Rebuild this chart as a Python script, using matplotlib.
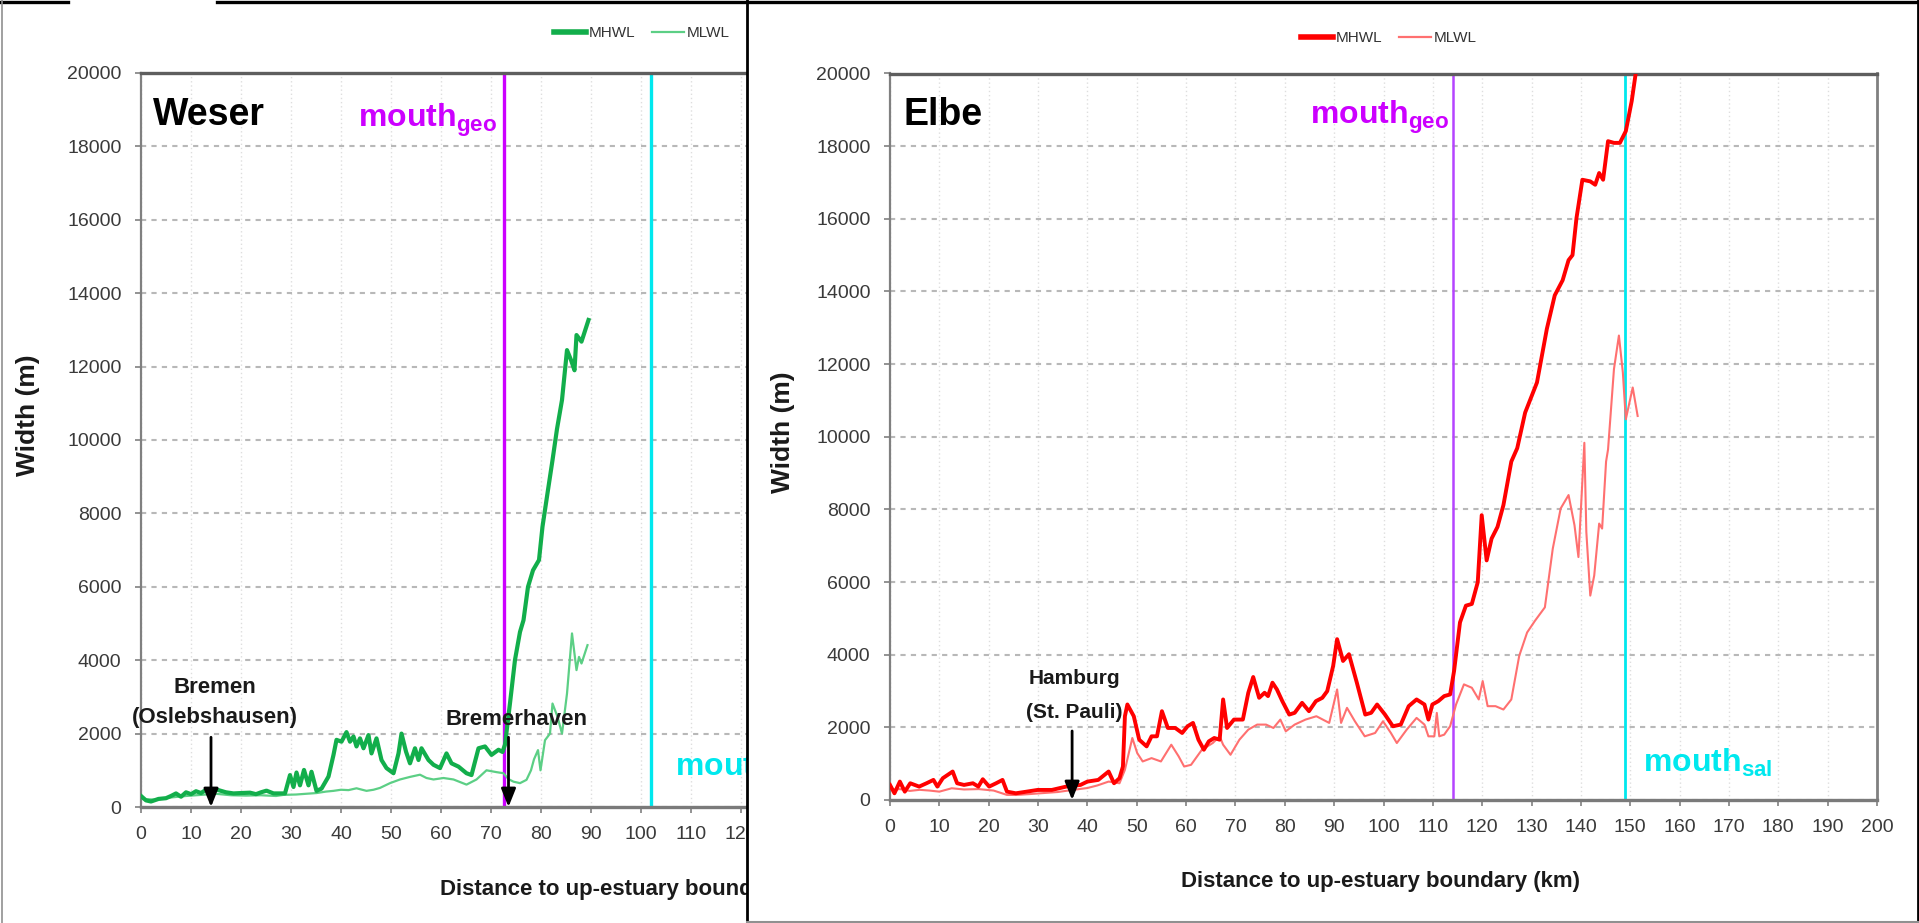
import matplotlib
matplotlib.use("Agg")
import matplotlib.pyplot as plt
from matplotlib.lines import Line2D
from matplotlib.patches import Rectangle

plt.rcParams['font.family'] = ['Liberation Sans', 'DejaVu Sans']
plt.rcParams['mathtext.fontset'] = 'custom'
plt.rcParams['mathtext.rm'] = 'Liberation Sans'
plt.rcParams['mathtext.bf'] = 'Liberation Sans:bold'
plt.rcParams['mathtext.it'] = 'Liberation Sans:italic'

# ==========================================
# Data: width (m) vs distance (km)
# ==========================================
weser_mhwl_km = [0, 1, 2, 3.5, 5, 6, 7, 8, 9, 10, 11, 12, 13, 14, 15, 16, 17, 18.5, 20, 21.8,
                 23, 24, 25.1, 26.5, 28.8, 29.8, 30.5, 31.1, 31.8, 32.6, 33.5, 34.1, 35.1, 36.1,
                 37.5, 38.5, 39.1, 40.1, 41.1, 41.8, 42.5, 43.1, 43.8, 44.5, 45.5, 46.1, 47.1,
                 48.1, 49.1, 50.5, 51.5, 52.1, 53.0, 53.8, 54.8, 55.5, 56.1, 57.5, 58.5, 59.8,
                 61.1, 62.1, 63.5, 65.1, 66.1, 67.5, 68.8, 70.1, 71.5, 72.3, 72.8, 73.8, 74.8,
                 75.8, 76.5, 77.4, 78.4, 79.6, 80.3, 81.3, 82.3, 83.2, 84.2, 85.2, 86.0, 86.7,
                 87.1, 88.1, 89.5]
weser_mhwl = [300, 180, 150, 220, 240, 300, 370, 280, 400, 350, 430, 380, 470, 420, 480, 440,
              400, 370, 380, 390, 350, 400, 445, 370, 370, 870, 545, 940, 590, 1010, 590, 960,
              440, 500, 830, 1420, 1830, 1780, 2040, 1780, 1920, 1650, 1870, 1600, 1960, 1460,
              1870, 1280, 1060, 920, 1460, 2000, 1510, 1190, 1600, 1280, 1600, 1280, 1150, 1060,
              1460, 1190, 1100, 920, 870, 1600, 1650, 1420, 1560, 1500, 1700, 2830, 4010, 4770,
              5090, 6000, 6450, 6730, 7640, 8550, 9450, 10300, 11090, 12450, 12180, 11900, 12860,
              12680, 13270]

weser_mlwl_km = [0, 3, 6, 9, 12, 15, 18, 21, 24, 27, 28.5, 31, 33, 35.1, 37, 38.5, 40, 41.5,
                 43.1, 45.1, 46.5, 47.8, 49.8, 51.8, 53.8, 55.8, 57.1, 58.5, 60.5, 62.5, 65.1,
                 67.1, 69.1, 71.1, 72.5, 73.5, 74.5, 75.8, 77.1, 78.0, 78.6, 79.4, 79.9, 80.8,
                 81.8, 82.3, 83.3, 84.2, 85.2, 86.2, 87.1, 87.6, 88.1, 89.3]
weser_mlwl = [220, 200, 260, 300, 330, 360, 320, 310, 320, 300, 330, 340, 360, 380, 420, 440,
              470, 460, 510, 440, 470, 520, 650, 750, 820, 880, 790, 750, 790, 750, 610, 750,
              1000, 950, 920, 760, 690, 650, 740, 1000, 1300, 1550, 1000, 1820, 2000, 2820, 2460,
              2000, 3090, 4730, 3730, 4090, 3910, 4410]

elbe_mhwl_km = [0, 0.9, 2.0, 3.0, 4.1, 5.9, 7.4, 8.8, 9.6, 10.7, 11.7, 12.7, 13.6, 15.0, 16.8,
                17.9, 18.8, 20.1, 21.5, 22.8, 23.7, 25.5, 27.7, 29.9, 32.8, 35.7, 38.6, 40.0,
                42.2, 44.3, 45.4, 46.5, 47.2, 47.6, 48.1, 49.4, 50.5, 52.0, 53.0, 54.1, 55.1,
                56.3, 57.8, 59.2, 60.3, 61.4, 62.5, 63.6, 64.6, 65.7, 66.8, 67.5, 68.3, 69.7,
                71.5, 72.6, 73.6, 74.8, 75.9, 76.6, 77.5, 78.4, 79.5, 80.9, 82.0, 83.5, 84.9,
                86.3, 87.6, 88.6, 89.8, 90.6, 91.8, 93.0, 94.6, 96.3, 97.5, 98.7, 100.3, 101.9,
                103.5, 105.1, 106.7, 108.3, 109.1, 109.9, 111.1, 112.3, 113.5, 114.3, 115.5,
                116.7, 117.9, 119.1, 119.9, 120.9, 121.9, 123.1, 124.3, 125.9, 127.1, 128.7,
                131.1, 133.1, 134.7, 136.3, 137.5, 138.3, 139.1, 140.3, 141.9, 142.9, 143.7,
                144.5, 145.5, 146.7, 147.9, 149.1, 150.3, 151.1, 151.6]
elbe_mhwl = [415, 185, 507, 230, 461, 369, 461, 553, 369, 600, 692, 784, 461, 415, 461, 369,
             572, 369, 461, 553, 230, 185, 230, 277, 277, 369, 415, 507, 553, 784, 461, 600, 922,
             2306, 2630, 2306, 1660, 1476, 1753, 1753, 2445, 1983, 1983, 1845, 2030, 2122, 1660,
             1384, 1614, 1707, 1660, 2768, 1983, 2214, 2214, 2952, 3386, 2813, 2952, 2860, 3229,
             3044, 2721, 2352, 2400, 2675, 2445, 2721, 2813, 2998, 3690, 4428, 3828, 4013, 3229,
             2352, 2400, 2629, 2352, 2030, 2076, 2583, 2768, 2629, 2214, 2629, 2721, 2860, 2906,
             3552, 4889, 5350, 5397, 5996, 7841, 6596, 7196, 7518, 8118, 9317, 9686, 10664,
             11494, 12970, 13893, 14308, 14862, 15000, 16015, 17075, 17030, 16937, 17260, 17075,
             18137, 18090, 18090, 18413, 19244, 20000, 20600]

elbe_mlwl_km = [0, 2, 4, 6, 8, 10, 12.5, 15, 18, 21, 23.7, 25.5, 28, 31, 34, 37, 40, 42, 44.3,
                46.5, 47.6, 49.1, 50.1, 51.2, 53.0, 54.9, 57.0, 58.5, 59.6, 61.0, 63.2, 65.4,
                66.8, 67.5, 69.0, 70.8, 72.6, 74.4, 76.2, 77.7, 79.1, 80.2, 82.0, 84.2, 86.4,
                89.0, 90.6, 91.4, 92.6, 94.2, 96.2, 98.3, 99.9, 101.5, 102.7, 104.7, 106.7, 108.3,
                109.1, 110.3, 110.8, 111.3, 112.3, 113.5, 114.7, 116.3, 117.9, 119.3, 120.1,
                121.1, 122.7, 124.3, 125.9, 127.5, 129.1, 130.7, 132.7, 134.3, 135.9, 137.5,
                138.7, 139.5, 140.7, 141.1, 141.9, 142.7, 143.7, 144.3, 145.1, 145.5, 146.7,
                147.7, 148.5, 149.1, 150.5, 151.5]
elbe_mlwl = [277, 300, 250, 280, 260, 230, 323, 290, 300, 260, 140, 138, 160, 190, 220, 277,
             330, 400, 507, 461, 830, 1707, 1291, 1061, 1153, 1061, 1522, 1199, 922, 968, 1384,
             1568, 1753, 1522, 1245, 1660, 1937, 2076, 2076, 1983, 2214, 1891, 2076, 2214, 2306,
             2122, 3044, 2122, 2537, 2168, 1753, 1845, 2168, 1845, 1568, 1937, 2260, 2076, 1753,
             1753, 2398, 1753, 1799, 2030, 2629, 3183, 3090, 2768, 3275, 2583, 2583, 2491, 2768,
             3967, 4612, 4935, 5304, 6919, 8026, 8395, 7565, 6688, 9834, 7380, 5627, 6180, 7610,
             7472, 9317, 9650, 11863, 12786, 11771, 10480, 11356, 10572]

series_labels = ['MHWL', 'MLWL']
x_ticks = list(range(0, 201, 10))
y_ticks = list(range(0, 20001, 2000))

# reference positions (km) and arrow tops (m)
weser_mouth_geo, weser_mouth_sal = 72.7, 102.1
elbe_mouth_geo, elbe_mouth_sal = 114.0, 149.0
bremen_km, bremerhaven_km, hamburg_km = 14.0, 73.5, 36.9
arrow_top = 1900

GREEN_HW, GREEN_LW = '#12ae4b', '#5ccf85'
RED_HW, RED_LW = '#ff0000', '#ff7070'
MAGENTA, PURPLE, CYAN = '#cc00ff', '#b544ff', '#00e8ee'

# ==========================================
# Layout helpers (pixel -> figure fraction)
# ==========================================
W, H = 1919, 923
DIVIDER = 747


def fx(x):
    return x / W


def fy(y):
    return 1 - y / H


fig = plt.figure(figsize=(W / 100, H / 100), dpi=100)


def style_axes(ax, xmax):
    ax.set_xlim(0, xmax)
    ax.set_ylim(0, 20000)
    ax.set_xticks([t for t in x_ticks if t <= xmax])
    ax.set_yticks(y_ticks)
    ax.tick_params(direction='out', length=4, width=1.2, color='#808080',
                   labelsize=14, labelcolor='#3a3a3a', pad=10)
    ax.yaxis.grid(True, color='#b8b8b8', lw=1.5, linestyle=(0, (2.5, 2.5)))
    ax.xaxis.grid(True, color='#dedede', lw=1, linestyle=(0, (1, 2)))
    ax.set_axisbelow(True)
    ax.spines['left'].set_color('#808080')
    ax.spines['left'].set_linewidth(1.6)
    ax.spines['bottom'].set_color('#7a7a7a')
    ax.spines['bottom'].set_linewidth(2.4)
    ax.spines['top'].set_color('#5e5e5e')
    ax.spines['top'].set_linewidth(2.4)
    ax.spines['right'].set_color('#808080')
    ax.spines['right'].set_linewidth(2.0)


def arrow(ax, x, top):
    ax.annotate('', xy=(x, 0), xytext=(x, top),
                arrowprops=dict(arrowstyle='-|>,head_length=0.55,head_width=0.22',
                                color='black', lw=2, mutation_scale=20,
                                shrinkA=0, shrinkB=0), zorder=6)


def mouth_label(ax, x, y, sub, color, ha='left'):
    ax.text(x, y, r'$\mathbf{mouth}_{\mathbf{%s}}$' % sub, color=color, fontsize=23,
            ha=ha, va='baseline', zorder=7)


# ==========================================
# Left panel: Weser (cut off at the divider, 5 px per km)
# ==========================================
left_xmax = (DIVIDER - 141) / 5.0
axL = fig.add_axes([fx(141), fy(807), (DIVIDER - 141) / W, 734 / H])
axL.set_zorder(0)
style_axes(axL, left_xmax)
axL.spines['right'].set_visible(False)
axL.axvline(weser_mouth_geo, color=MAGENTA, lw=2.4, zorder=1.5)
axL.axvline(weser_mouth_sal, color=CYAN, lw=2.4, zorder=1.5)
axL.plot(weser_mlwl_km, weser_mlwl, color=GREEN_LW, lw=1.6, zorder=2)
axL.plot(weser_mhwl_km, weser_mhwl, color=GREEN_HW, lw=3.0, zorder=3)
axL.text(2.4, 18583, 'Weser', fontsize=27, fontweight='bold', va='baseline')
mouth_label(axL, 71.3, 18530, 'geo', MAGENTA, ha='right')
mouth_label(axL, 106.8, 853, 'sal', CYAN)
axL.text(14.8, 3093, 'Bremen', fontsize=16, fontweight='bold', ha='center', va='baseline',
         color='#1a1a1a')
axL.text(14.8, 2300, '(Oslebshausen)', fontsize=16, fontweight='bold', ha='center',
         va='baseline', color='#1a1a1a')
axL.text(75.1, 2234, 'Bremerhaven', fontsize=16, fontweight='bold', ha='center',
         va='baseline', color='#1a1a1a', zorder=5)
arrow(axL, bremen_km, arrow_top)
arrow(axL, bremerhaven_km, arrow_top)
axL.text(fx(440), fy(890), 'Distance to up-estuary boundary (km)', transform=fig.transFigure,
         fontsize=16, fontweight='bold', ha='left', va='center', color='#1a1a1a')

# white sheet covering the part of the left panel beyond the divider
fig.add_artist(Rectangle((fx(DIVIDER), 0), 1 - fx(DIVIDER), 1, transform=fig.transFigure,
                         facecolor='white', edgecolor='none', zorder=1))

# ==========================================
# Right panel: Elbe
# ==========================================
axR = fig.add_axes([fx(890), fy(800), 987 / W, 726.5 / H])
axR.set_zorder(2)
style_axes(axR, 200)
axR.axvline(elbe_mouth_geo, color=PURPLE, lw=1.8, zorder=1.5)
axR.axvline(elbe_mouth_sal, color=CYAN, lw=2.0, zorder=1.5)
axR.plot(elbe_mlwl_km, elbe_mlwl, color=RED_LW, lw=1.5, zorder=2)
axR.plot(elbe_mhwl_km, elbe_mhwl, color=RED_HW, lw=2.8, zorder=3)
axR.text(2.8, 18582, 'Elbe', fontsize=27, fontweight='bold', va='baseline')
mouth_label(axR, 113.3, 18610, 'geo', MAGENTA, ha='right')
mouth_label(axR, 152.5, 770, 'sal', CYAN)
axR.text(37.3, 3193, 'Hamburg', fontsize=15, fontweight='bold', ha='center', va='baseline',
         color='#1a1a1a')
axR.text(37.3, 2257, '(St. Pauli)', fontsize=15, fontweight='bold', ha='center',
         va='baseline', color='#1a1a1a')
arrow(axR, hamburg_km, arrow_top)

# axis titles
fig.text(fx(28), fy(415), 'Width (m)', rotation=90, ha='center', va='center', fontsize=19,
         fontweight='bold', color='#1a1a1a')
fig.text(fx(783), fy(432), 'Width (m)', rotation=90, ha='center', va='center', fontsize=19,
         fontweight='bold', color='#1a1a1a', zorder=3)
fig.text(fx(1380), fy(882), 'Distance to up-estuary boundary (km)', ha='center', va='center',
         fontsize=16, fontweight='bold', color='#1a1a1a', zorder=3)

# legends
hL = [Line2D([], [], color=GREEN_HW, lw=4), Line2D([], [], color=GREEN_LW, lw=1.6)]
hR = [Line2D([], [], color=RED_HW, lw=4), Line2D([], [], color=RED_LW, lw=1.6)]
for handles, cx, cy in [(hL, 642, 33), (hR, 1389, 38)]:
    fig.legend(handles, series_labels, loc='center', bbox_to_anchor=(fx(cx), fy(cy)),
               ncol=2, frameon=False, fontsize=11, handlelength=2.1, handletextpad=0.15,
               columnspacing=1.1, labelcolor='#333333')

# frame lines of the composite picture
frame = [([0, 68], [1.5, 1.5], 'black', 2.4),
         ([217, W], [1.5, 1.5], 'black', 2.4),
         ([1.5, 1.5], [0, H], '#909090', 1.2),
         ([DIVIDER, DIVIDER], [0, H], 'black', 2.0),
         ([W - 1.5, W - 1.5], [0, H], 'black', 2.0),
         ([DIVIDER, W], [H - 1.5, H - 1.5], '#909090', 1.5)]
for xs, ys, c, lw in frame:
    fig.add_artist(Line2D([fx(v) for v in xs], [fy(v) for v in ys], transform=fig.transFigure,
                          color=c, lw=lw, zorder=10))

fig.savefig('out.png', dpi=100, facecolor='white')
